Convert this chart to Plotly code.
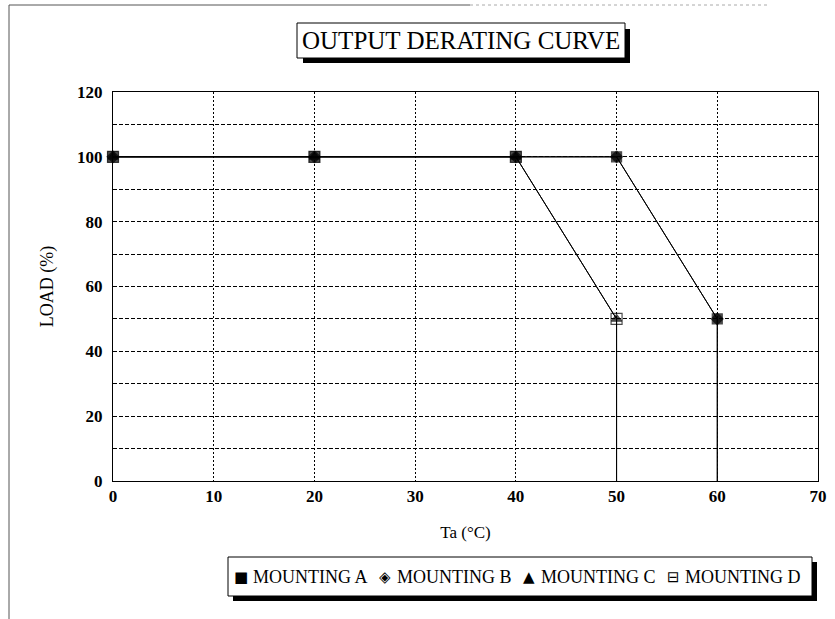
import plotly.graph_objects as go

# ---- data ----
x_ab = [0, 20, 40, 50, 60, 60]
y_ab = [100, 100, 100, 100, 50, 0]
x_cd = [0, 20, 40, 50, 50]
y_cd = [100, 100, 100, 50, 0]
series_names = ["MOUNTING A", "MOUNTING B", "MOUNTING C", "MOUNTING D"]
legend_glyphs = ["■", "◈", "▲", "⊟"]
x_tickvals = [0, 10, 20, 30, 40, 50, 60, 70]
y_tickvals = [0, 20, 40, 60, 80, 100, 120]
title_text = "OUTPUT DERATING CURVE"
x_title = "Ta (°C)"
y_title = "LOAD (%)"

W, H = 835, 619
L, R, T, B = 113, 17, 92, 138
PW, PH = W - L - R, H - T - B
FONT = "Liberation Serif, Times New Roman, serif"


def px(x):
    return (x - L) / PW


def py(y):
    return (H - B - y) / PH


def sizes(n, s):
    return [s] * (n - 1) + [0]


fig = go.Figure()
styles = [
    (x_ab, y_ab, "square", "black", 10),
    (x_ab, y_ab, "diamond", "black", 9),
    (x_cd, y_cd, "triangle-up", "black", 9),
    (x_cd, y_cd, "square-open", "black", 11),
]
for name, (xs, ys, sym, col, s) in zip(series_names, styles):
    fig.add_trace(go.Scatter(
        x=xs, y=ys, name=name, mode="lines+markers", showlegend=False,
        line=dict(color="black", width=1),
        marker=dict(symbol=sym, size=sizes(len(xs), s), color=col,
                    line=dict(color="black", width=1.2)),
        cliponaxis=False,
    ))

shapes = []
# outer chart frame (faded)
shapes.append(dict(type="line", xref="paper", yref="paper",
                   x0=px(9), x1=px(9), y0=py(5), y1=py(619),
                   line=dict(color="#555", width=1)))
shapes.append(dict(type="line", xref="paper", yref="paper",
                   x0=px(9), x1=px(470), y0=py(5), y1=py(5),
                   line=dict(color="#555", width=1)))
shapes.append(dict(type="line", xref="paper", yref="paper",
                   x0=px(470), x1=px(770), y0=py(5), y1=py(5),
                   line=dict(color="#aaa", width=1, dash="dot")))
# title box with shadow
shapes.append(dict(type="rect", xref="paper", yref="paper",
                   x0=px(303), x1=px(630), y0=py(29), y1=py(63),
                   fillcolor="black", line=dict(width=0)))
shapes.append(dict(type="rect", xref="paper", yref="paper",
                   x0=px(297), x1=px(625), y0=py(23), y1=py(58),
                   fillcolor="white", line=dict(color="black", width=1)))
# legend box with shadow
shapes.append(dict(type="rect", xref="paper", yref="paper",
                   x0=px(233), x1=px(817), y0=py(562), y1=py(601),
                   fillcolor="black", line=dict(width=0)))
shapes.append(dict(type="rect", xref="paper", yref="paper",
                   x0=px(228), x1=px(812), y0=py(557), y1=py(596),
                   fillcolor="white", line=dict(color="black", width=1)))

annotations = [
    dict(text=title_text, xref="paper", yref="paper", x=px(461), y=py(40),
         xanchor="center", yanchor="middle", showarrow=False,
         font=dict(family=FONT, size=25, color="black")),
]
# legend entries (text + symbol glyph)
leg_y = py(577)
for i, (name, g) in enumerate(zip(series_names, legend_glyphs)):
    start = 236 + 144 * i
    annotations.append(dict(text=g, xref="paper", yref="paper", x=px(start + 5), y=leg_y,
                            xanchor="center", yanchor="middle", showarrow=False,
                            font=dict(family="DejaVu Sans", size=15, color="black")))
    annotations.append(dict(text=name, xref="paper", yref="paper", x=px(start + 15), y=leg_y,
                            xanchor="left", yanchor="middle", showarrow=False,
                            font=dict(family=FONT, size=18, color="black")))

fig.update_layout(
    width=W, height=H,
    margin=dict(l=L, r=R, t=T, b=B, autoexpand=False),
    paper_bgcolor="white", plot_bgcolor="white",
    font=dict(family=FONT, color="black", size=16),
    showlegend=False,
    shapes=shapes,
    annotations=annotations,
    xaxis=dict(range=[0, 70], tickvals=x_tickvals, showline=True, mirror=True,
               linecolor="black", linewidth=1, showgrid=True, gridcolor="black",
               griddash="2px,2px", gridwidth=1, zeroline=False, ticks="",
               automargin=False,
               tickfont=dict(family=FONT, size=17, weight="bold"),
               title=dict(text=x_title, font=dict(family=FONT, size=17), standoff=20)),
    yaxis=dict(range=[0, 120], tickvals=y_tickvals, showline=True, mirror=True,
               linecolor="black", linewidth=1, showgrid=True, gridcolor="black",
               griddash="4px,2px", gridwidth=1, zeroline=False, ticks="",
               automargin=False,
               minor=dict(dtick=10, showgrid=True, gridcolor="black",
                          griddash="4px,2px", gridwidth=1),
               tickfont=dict(family=FONT, size=17, weight="bold"),
               ticklabelstandoff=6,
               title=dict(text=y_title, font=dict(family=FONT, size=18), standoff=18)),
)

fig.write_html("out.html", config={"displayModeBar": False},
               post_script="document.body.style.margin='0';document.body.style.padding='0';")
